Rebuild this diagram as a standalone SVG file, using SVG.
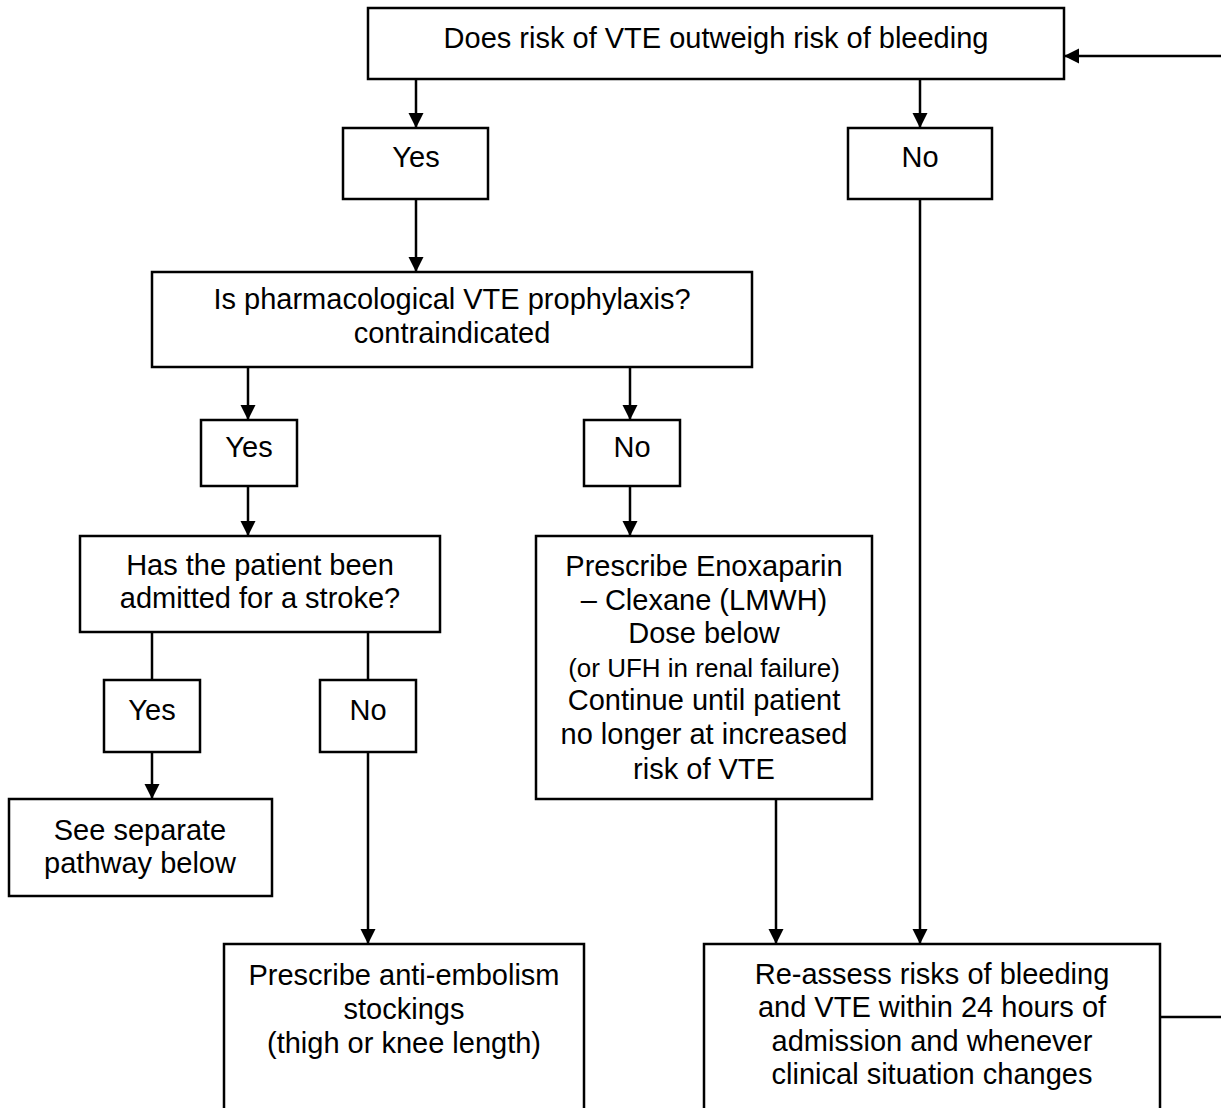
<svg xmlns="http://www.w3.org/2000/svg" width="1221" height="1108" viewBox="0 0 1221 1108">
<style>
.box{fill:#fff;stroke:#000;stroke-width:2.5}
.t{font-family:"Liberation Sans",Arial,sans-serif;font-size:29px;fill:#000;text-anchor:middle}
.s{font-size:26px}
.c{stroke:#000;stroke-width:2.5;fill:none}
.a{marker-end:url(#arr)}
</style>
<defs>
<marker id="arr" markerUnits="userSpaceOnUse" markerWidth="16" markerHeight="16" refX="15" refY="8" orient="auto">
<path d="M0,0.5 L15,8 L0,15.5 z" fill="#000"/>
</marker>
</defs>
<rect width="1221" height="1108" fill="#fff"/>
<g id="connectors">
<line class="c a" x1="416" y1="79" x2="416" y2="128"/>
<line class="c a" x1="920" y1="79" x2="920" y2="128"/>
<line class="c a" x1="416" y1="199" x2="416" y2="272"/>
<line class="c a" x1="920" y1="199" x2="920" y2="944"/>
<line class="c a" x1="248" y1="367" x2="248" y2="420"/>
<line class="c a" x1="630" y1="367" x2="630" y2="420"/>
<line class="c a" x1="248" y1="486" x2="248" y2="536"/>
<line class="c a" x1="630" y1="486" x2="630" y2="536"/>
<line class="c" x1="152" y1="632" x2="152" y2="680"/>
<line class="c" x1="368" y1="632" x2="368" y2="680"/>
<line class="c a" x1="152" y1="752" x2="152" y2="799"/>
<line class="c a" x1="368" y1="752" x2="368" y2="944"/>
<line class="c a" x1="776" y1="799" x2="776" y2="944"/>
<line class="c a" x1="1221" y1="56" x2="1064" y2="56"/>
<line class="c" x1="1160" y1="1017" x2="1221" y2="1017"/>
</g>
<g id="n-top"><rect class="box" x="368" y="8" width="696" height="71"/><text class="t" x="716" y="48">Does risk of VTE outweigh risk of bleeding</text></g>
<g id="n-yes1"><rect class="box" x="343" y="128" width="145" height="71"/><text class="t" x="416" y="167">Yes</text></g>
<g id="n-no1"><rect class="box" x="848" y="128" width="144" height="71"/><text class="t" x="920" y="167">No</text></g>
<g id="n-pharma"><rect class="box" x="152" y="272" width="600" height="95"/><text class="t" x="452" y="309">Is pharmacological VTE prophylaxis?</text><text class="t" x="452" y="343">contraindicated</text></g>
<g id="n-yes2"><rect class="box" x="201" y="420" width="96" height="66"/><text class="t" x="249" y="457">Yes</text></g>
<g id="n-no2"><rect class="box" x="584" y="420" width="96" height="66"/><text class="t" x="632" y="457">No</text></g>
<g id="n-stroke"><rect class="box" x="80" y="536" width="360" height="96"/><text class="t" x="260" y="575">Has the patient been</text><text class="t" x="260" y="608">admitted for a stroke?</text></g>
<g id="n-yes3"><rect class="box" x="104" y="680" width="96" height="72"/><text class="t" x="152" y="720">Yes</text></g>
<g id="n-no3"><rect class="box" x="320" y="680" width="96" height="72"/><text class="t" x="368" y="720">No</text></g>
<g id="n-sep"><rect class="box" x="9" y="799" width="263" height="97"/><text class="t" x="140" y="840">See separate</text><text class="t" x="140" y="873">pathway below</text></g>
<g id="n-enox"><rect class="box" x="536" y="536" width="336" height="263"/>
<text class="t" x="704" y="576">Prescribe Enoxaparin</text>
<text class="t" x="704" y="610">– Clexane (LMWH)</text>
<text class="t" x="704" y="643">Dose below</text>
<text class="t s" x="704" y="677">(or UFH in renal failure)</text>
<text class="t" x="704" y="710">Continue until patient</text>
<text class="t" x="704" y="744">no longer at increased</text>
<text class="t" x="704" y="779">risk of VTE</text></g>
<g id="n-stock"><rect class="box" x="224" y="944" width="360" height="190"/>
<text class="t" x="404" y="985">Prescribe anti-embolism</text>
<text class="t" x="404" y="1019">stockings</text>
<text class="t" x="404" y="1053">(thigh or knee length)</text></g>
<g id="n-reassess"><rect class="box" x="704" y="944" width="456" height="190"/>
<text class="t" x="932" y="984">Re-assess risks of bleeding</text>
<text class="t" x="932" y="1017">and VTE within 24 hours of</text>
<text class="t" x="932" y="1051">admission and whenever</text>
<text class="t" x="932" y="1084">clinical situation changes</text></g>
</svg>
